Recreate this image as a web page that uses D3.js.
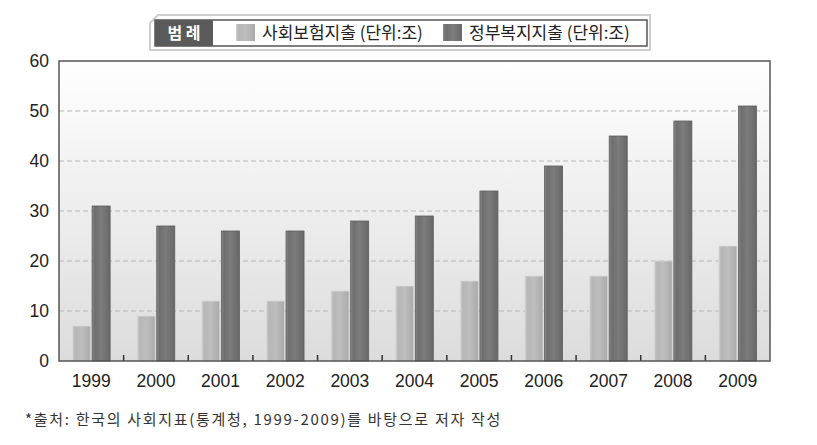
<!DOCTYPE html>
<html>
<head>
<meta charset="utf-8">
<script src="https://cdn.jsdelivr.net/npm/d3@7"></script>
<style>
  body { margin: 0; background: #fff; }
  svg { display: block; font-family: "Noto Sans CJK KR", "Noto Sans", sans-serif; }
</style>
</head>
<body>
<div id="chart"></div>
<script>
const years = ["1999","2000","2001","2002","2003","2004","2005","2006","2007","2008","2009"];
const socialIns = [7, 9, 12, 12, 14, 15, 16, 17, 17, 20, 23];
const govWelfare = [31, 27, 26, 26, 28, 29, 34, 39, 45, 48, 51];
const seriesNames = ["사회보험지출 (단위:조)", "정부복지지출 (단위:조)"];
const yTicks = [0, 10, 20, 30, 40, 50, 60];

const width = 817, height = 445;
const margin = {top: 61, right: 47, bottom: 84, left: 59};
const iw = width - margin.left - margin.right;
const ih = height - margin.top - margin.bottom;

const svg = d3.select("#chart").append("svg").attr("width", width).attr("height", height);
const defs = svg.append("defs");

var bg = defs.append("linearGradient").attr("id","bg").attr("x1",0).attr("y1",0).attr("x2",0).attr("y2",1);
bg.append("stop").attr("offset","0%").attr("stop-color","#ffffff");
bg.append("stop").attr("offset","100%").attr("stop-color","#dcdcdc");

var lg = defs.append("linearGradient").attr("id","lightBar").attr("x1",0).attr("x2",1);
lg.append("stop").attr("offset","0%").attr("stop-color","#cccccc");
lg.append("stop").attr("offset","15%").attr("stop-color","#b6b6b6");
lg.append("stop").attr("offset","50%").attr("stop-color","#bebebe");
lg.append("stop").attr("offset","100%").attr("stop-color","#aaaaaa");

var dg = defs.append("linearGradient").attr("id","darkBar").attr("x1",0).attr("x2",1);
dg.append("stop").attr("offset","0%").attr("stop-color","#8a8a8a");
dg.append("stop").attr("offset","15%").attr("stop-color","#6e6e6e");
dg.append("stop").attr("offset","50%").attr("stop-color","#7c7c7c");
dg.append("stop").attr("offset","100%").attr("stop-color","#686868");

const g = svg.append("g").attr("transform", "translate(" + margin.left + "," + margin.top + ")");

const x = d3.scaleBand().domain(years).range([0, iw]).paddingInner(0).paddingOuter(0);
const x1 = d3.scaleBand().domain([0, 1]).range([13.5, x.bandwidth() - 13.5]).paddingInner(0.08);
const y = d3.scaleLinear().domain([0, 60]).range([ih, 0]);

g.append("rect").attr("width", iw).attr("height", ih).attr("fill", "url(#bg)");

// gridlines
g.selectAll(".grid").data(yTicks.filter(d => d > 0 && d < 60)).enter().append("line")
  .attr("x1", 0).attr("x2", iw)
  .attr("y1", d => y(d)).attr("y2", d => y(d))
  .attr("stroke", "#b8b8b8").attr("stroke-dasharray", "5,3").attr("stroke-width", 1);

// bars
const grp = g.selectAll(".yr").data(years).enter().append("g")
  .attr("transform", d => "translate(" + x(d) + ",0)");

grp.append("rect")
  .attr("x", x1(0)).attr("width", x1.bandwidth())
  .attr("y", (d, i) => y(socialIns[i])).attr("height", (d, i) => ih - y(socialIns[i]))
  .attr("fill", "url(#lightBar)").attr("stroke", "#dadada").attr("stroke-width", 0.8);

grp.append("rect")
  .attr("x", x1(1)).attr("width", x1.bandwidth())
  .attr("y", (d, i) => y(govWelfare[i])).attr("height", (d, i) => ih - y(govWelfare[i]))
  .attr("fill", "url(#darkBar)").attr("stroke", "#5e5e5e").attr("stroke-width", 0.8);

// x ticks between categories
g.selectAll(".xt").data(years.slice(1)).enter().append("line")
  .attr("x1", d => x(d)).attr("x2", d => x(d))
  .attr("y1", ih).attr("y2", ih - 6)
  .attr("stroke", "#333").attr("stroke-width", 1.5);

// frame
g.append("rect").attr("width", iw).attr("height", ih)
  .attr("fill", "none").attr("stroke", "#555").attr("stroke-width", 1.5);

// axis labels
g.selectAll(".yl").data(yTicks).enter().append("text")
  .attr("x", -10).attr("y", d => y(d)).attr("dy", "0.35em")
  .attr("text-anchor", "end").attr("font-size", 17.5).attr("fill", "#222")
  .attr("font-family", "'Liberation Sans', Arial, sans-serif")
  .text(d => d);

g.selectAll(".xl").data(years).enter().append("text")
  .attr("x", d => x(d) + x.bandwidth() / 2).attr("y", ih + 20).attr("dy", "0.35em")
  .attr("text-anchor", "middle").attr("font-size", 17.5).attr("fill", "#222")
  .attr("font-family", "'Liberation Sans', Arial, sans-serif")
  .text(d => d);

// legend
const leg = svg.append("g");
leg.append("path")
  .attr("d", "M158,15 L650,15 L650,50 L150,50 L150,23 Z")
  .attr("fill", "#fff").attr("stroke", "#cfcfcf").attr("stroke-width", 2);
leg.append("rect").attr("x", 155).attr("y", 20).attr("width", 492).attr("height", 26)
  .attr("fill", "#fff").attr("stroke", "#555").attr("stroke-width", 1.5);
leg.append("rect").attr("x", 155).attr("y", 20).attr("width", 58).attr("height", 26)
  .attr("fill", "#5a5a5a");
leg.append("text").attr("x", 184).attr("y", 33).attr("dy", "0.35em")
  .attr("text-anchor", "middle").attr("font-size", 16).attr("font-weight", "bold")
  .attr("fill", "#fff").text("범 례");

const legX = [236, 443];
const legFill = ["url(#lightBar)", "url(#darkBar)"];
seriesNames.forEach(function(name, i) {
  leg.append("rect").attr("x", legX[i]).attr("y", 24).attr("width", 19).attr("height", 17)
    .attr("fill", legFill[i]);
  leg.append("text").attr("x", legX[i] + 26).attr("y", 33).attr("dy", "0.35em")
    .attr("font-size", 17).attr("fill", "#222").text(name);
});

// source note
svg.append("text").attr("x", 25).attr("y", 420).attr("dy", "0.35em")
  .attr("font-size", 15).attr("fill", "#333").attr("letter-spacing", 1.7)
  .text("*출처: 한국의 사회지표(통계청, 1999-2009)를 바탕으로 저자 작성");
</script>
</body>
</html>
